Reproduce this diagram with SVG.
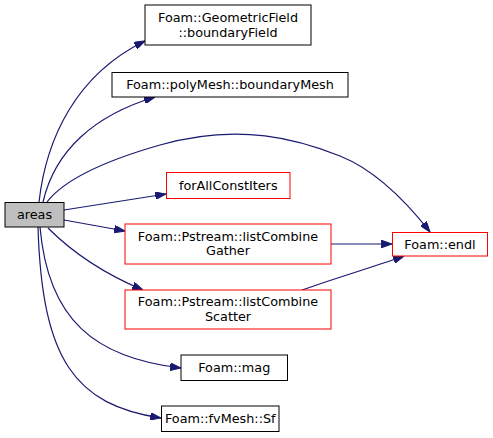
<svg xmlns="http://www.w3.org/2000/svg" width="493" height="438" viewBox="0 0 493 438">
<style>
.n rect{fill:#ffffff;stroke:#000000;stroke-width:1}
.n.red rect{stroke:#ff0000}
.n.cur rect{fill:#bfbfbf}
.n text{font-family:"DejaVu Sans",sans-serif;font-size:12.8px;fill:#000000;text-anchor:middle}
.e path{fill:none;stroke:#191970;stroke-width:1.2;marker-end:url(#ah)}
</style>
<defs>
<marker id="ah" markerUnits="userSpaceOnUse" viewBox="0 0 10 7" refX="10" refY="3.5" markerWidth="11" markerHeight="7.5" orient="auto">
<path d="M0,0 L10,3.5 L0,7 z" fill="#191970" stroke="#191970"/>
</marker>
</defs>
<rect width="493" height="438" fill="#ffffff"/>
<g id="edges" class="e">
<path d="M39,202 C46,140 75,75 145,41"/>
<path d="M43,202 C55,150 95,115 155,97"/>
<path d="M47,202 C60,185 90,165 160,145 C240,122 300,140 340,156 C375,170 405,200 430,232"/>
<path d="M64,210 L166,194"/>
<path d="M64,220 L125,231"/>
<path d="M48,228 C65,245 95,270 143,290"/>
<path d="M40,227 C48,320 95,358 181,368"/>
<path d="M38,227 C42,360 75,405 161,418"/>
<path d="M331,244 L392,244"/>
<path d="M302,290 C330,280 370,268 404,256"/>
</g>
<g id="areas" class="n cur"><rect x="5" y="202.5" width="59" height="24.5"/><text x="34.5" y="219">areas</text></g>
<g id="boundaryField" class="n"><rect x="145" y="5" width="166" height="40"/><text x="228" y="21.5">Foam::GeometricField</text><text x="228" y="36.5">::boundaryField</text></g>
<g id="boundaryMesh" class="n"><rect x="112" y="72.5" width="236" height="24.5"/><text x="230" y="89">Foam::polyMesh::boundaryMesh</text></g>
<g id="forAllConstIters" class="n red"><rect x="166.5" y="172.5" width="123.5" height="26"/><text x="228.25" y="190">forAllConstIters</text></g>
<g id="listCombineGather" class="n red"><rect x="125" y="224" width="206" height="40"/><text x="228" y="240.5">Foam::Pstream::listCombine</text><text x="228" y="255">Gather</text></g>
<g id="listCombineScatter" class="n red"><rect x="125" y="290" width="206" height="39"/><text x="228" y="306">Foam::Pstream::listCombine</text><text x="228" y="320.5">Scatter</text></g>
<g id="endl" class="n red"><rect x="392.5" y="232.5" width="95" height="23.5"/><text x="440" y="249">Foam::endl</text></g>
<g id="mag" class="n"><rect x="181" y="355" width="106.5" height="25.5"/><text x="234.25" y="372">Foam::mag</text></g>
<g id="Sf" class="n"><rect x="161.5" y="406" width="117.5" height="25.5"/><text x="220.25" y="423">Foam::fvMesh::Sf</text></g>
</svg>
